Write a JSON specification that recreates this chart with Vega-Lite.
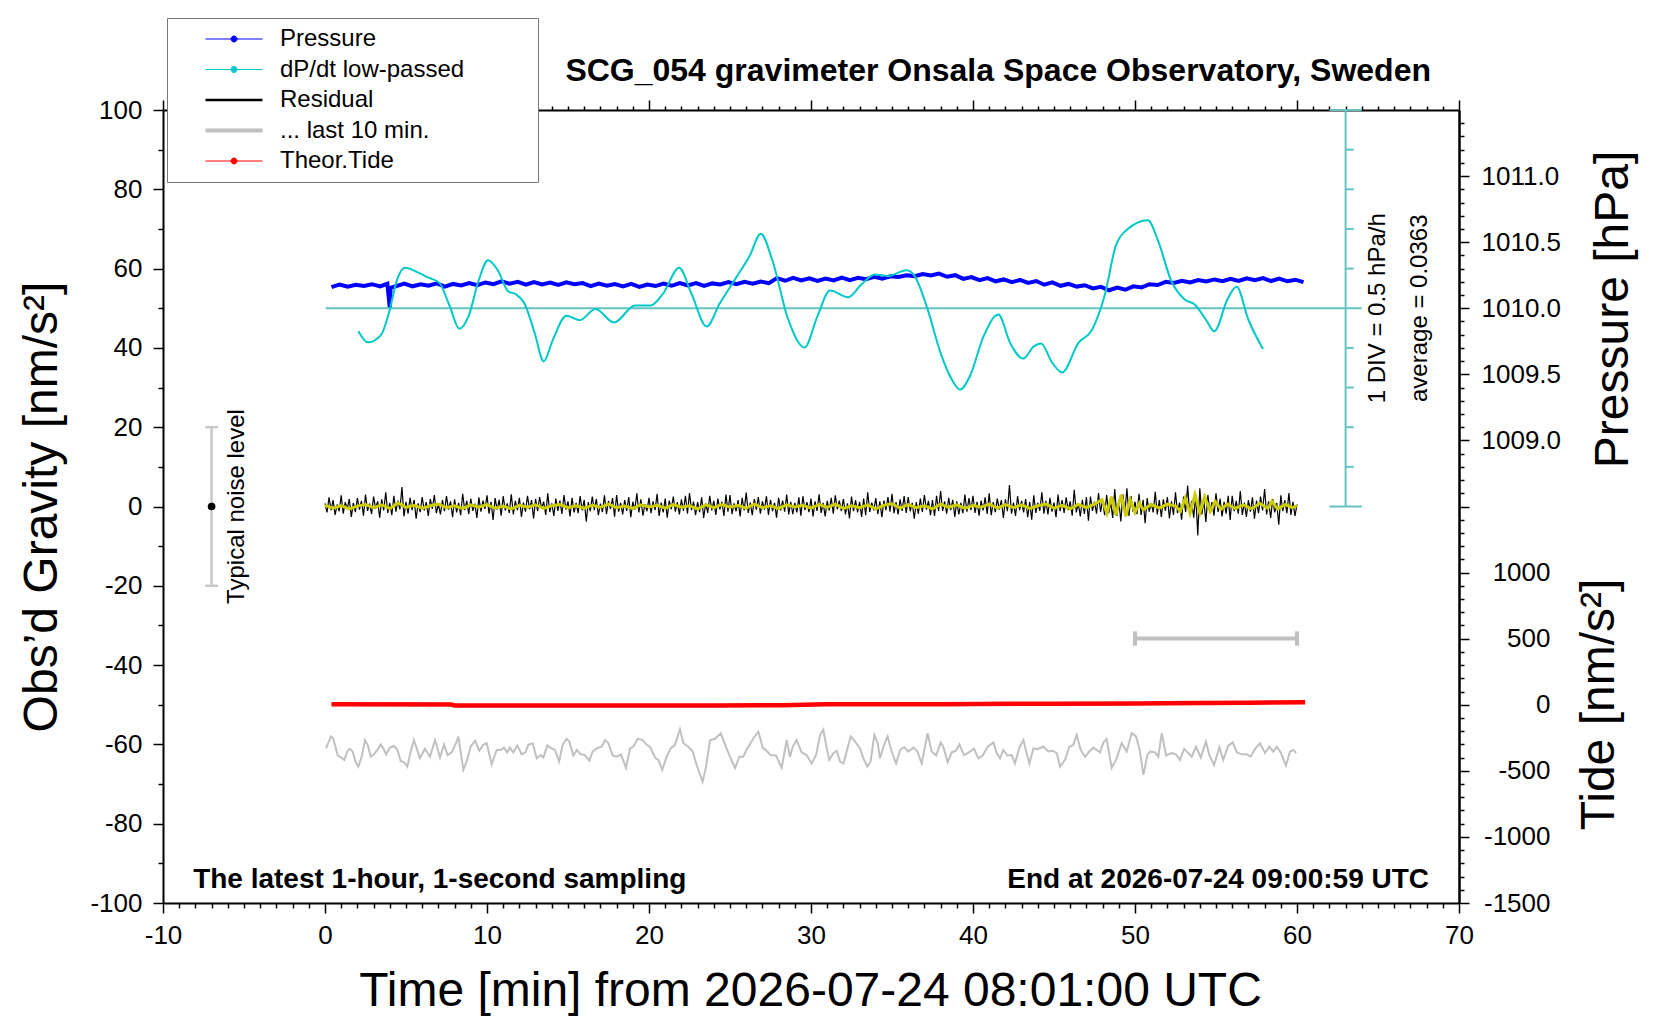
{
"$schema": "https://vega.github.io/schema/vega-lite/v6.json",
"autosize": {"type": "none"},
"padding": {"left": 163, "top": 110, "right": 201, "bottom": 117},
"width": 1296,
"height": 793,
"background": "#ffffff",
"config": {
 "view": {"stroke": null},
 "axis": {"domainColor": "#000000", "domainWidth": 2, "tickColor": "#000000", "tickWidth": 1.5, "labelFont": "Liberation Sans", "labelFontSize": 26, "labelColor": "#000000", "titleFont": "Liberation Sans", "titleFontSize": 48, "titleFontWeight": "normal", "titleColor": "#000000", "grid": false, "labelFlush": false, "labelOverlap": false, "labelBound": false},
 "text": {"font": "Liberation Sans", "color": "#000000"}
},
"datasets": {
 "residual": [
{"x":0,"g":0.8},{"x":0.125,"g":-1.5},{"x":0.25,"g":2.3},{"x":0.375,"g":-0.9},{"x":0.5,"g":1.6},{"x":0.625,"g":-2.1},{"x":0.75,"g":0.5},{"x":0.875,"g":-1.2},{"x":1,"g":2.8},{"x":1.125,"g":-1.8},{"x":1.25,"g":1.1},{"x":1.375,"g":-0.6},{"x":1.5,"g":1.9},{"x":1.625,"g":-2.6},{"x":1.75,"g":0.9},{"x":1.875,"g":-1.4},
{"x":2,"g":2.1},{"x":2.125,"g":-0.8},{"x":2.25,"g":1.4},{"x":2.375,"g":-2.3},{"x":2.5,"g":3.0},{"x":2.625,"g":-1.1},{"x":2.75,"g":0.7},{"x":2.875,"g":-1.9},{"x":3,"g":2.5},{"x":3.125,"g":-0.5},{"x":3.25,"g":1.3},{"x":3.375,"g":-2.8},{"x":3.5,"g":1.8},{"x":3.625,"g":-1.0},{"x":3.75,"g":3.6},{"x":3.875,"g":-1.6},
{"x":4,"g":0.9},{"x":4.125,"g":-2.2},{"x":4.25,"g":2.7},{"x":4.375,"g":-1.3},{"x":4.5,"g":1.5},{"x":4.625,"g":-0.7},{"x":4.75,"g":4.9},{"x":4.875,"g":-2.5},{"x":5,"g":1.2},{"x":5.125,"g":-1.8},{"x":5.25,"g":2.2},{"x":5.375,"g":-0.9},{"x":5.5,"g":1.7},{"x":5.625,"g":-3.1},{"x":5.75,"g":0.8},{"x":5.875,"g":-1.4},
{"x":6,"g":2.4},{"x":6.125,"g":-1.0},{"x":6.25,"g":1.1},{"x":6.375,"g":-2.4},{"x":6.5,"g":1.9},{"x":6.625,"g":-0.6},{"x":6.75,"g":2.9},{"x":6.875,"g":-1.7},{"x":7,"g":0.6},{"x":7.125,"g":-2.0},{"x":7.25,"g":1.6},{"x":7.375,"g":-1.2},{"x":7.5,"g":2.6},{"x":7.625,"g":-0.8},{"x":7.75,"g":1.3},{"x":7.875,"g":-2.7},
{"x":8,"g":1.8},{"x":8.125,"g":-1.5},{"x":8.25,"g":0.9},{"x":8.375,"g":-2.2},{"x":8.5,"g":3.2},{"x":8.625,"g":-0.9},{"x":8.75,"g":1.4},{"x":8.875,"g":-1.9},{"x":9,"g":2.0},{"x":9.125,"g":-1.1},{"x":9.25,"g":0.7},{"x":9.375,"g":-2.9},{"x":9.5,"g":2.3},{"x":9.625,"g":-1.3},{"x":9.75,"g":1.5},{"x":9.875,"g":-0.6},
{"x":10,"g":2.8},{"x":10.125,"g":-1.8},{"x":10.25,"g":1.2},{"x":10.375,"g":-3.4},{"x":10.5,"g":2.1},{"x":10.625,"g":-0.8},{"x":10.75,"g":1.7},{"x":10.875,"g":-2.3},{"x":11,"g":2.6},{"x":11.125,"g":-1.0},{"x":11.25,"g":0.8},{"x":11.375,"g":-1.6},{"x":11.5,"g":3.1},{"x":11.625,"g":-2.0},{"x":11.75,"g":1.4},{"x":11.875,"g":-0.9},
{"x":12,"g":2.2},{"x":12.125,"g":-2.6},{"x":12.25,"g":1.0},{"x":12.375,"g":-1.3},{"x":12.5,"g":2.7},{"x":12.625,"g":-0.7},{"x":12.75,"g":1.6},{"x":12.875,"g":-3.0},{"x":13,"g":1.9},{"x":13.125,"g":-1.2},{"x":13.25,"g":2.4},{"x":13.375,"g":-0.5},{"x":13.5,"g":1.2},{"x":13.625,"g":-2.1},{"x":13.75,"g":3.3},{"x":13.875,"g":-1.4},
{"x":14,"g":0.8},{"x":14.125,"g":-2.4},{"x":14.25,"g":2.0},{"x":14.375,"g":-1.1},{"x":14.5,"g":1.5},{"x":14.625,"g":-1.9},{"x":14.75,"g":2.9},{"x":14.875,"g":-0.8},{"x":15,"g":1.3},{"x":15.125,"g":-2.5},{"x":15.25,"g":2.2},{"x":15.375,"g":-1.5},{"x":15.5,"g":0.9},{"x":15.625,"g":-1.7},{"x":15.75,"g":2.6},{"x":15.875,"g":-1.0},
{"x":16,"g":1.7},{"x":16.125,"g":-3.8},{"x":16.25,"g":1.1},{"x":16.375,"g":-1.2},{"x":16.5,"g":2.5},{"x":16.625,"g":-0.9},{"x":16.75,"g":1.9},{"x":16.875,"g":-2.2},{"x":17,"g":0.7},{"x":17.125,"g":-1.4},{"x":17.25,"g":2.8},{"x":17.375,"g":-1.9},{"x":17.5,"g":1.4},{"x":17.625,"g":-0.6},{"x":17.75,"g":2.1},{"x":17.875,"g":-2.6},
{"x":18,"g":2.9},{"x":18.125,"g":-1.3},{"x":18.25,"g":0.9},{"x":18.375,"g":-2.0},{"x":18.5,"g":1.6},{"x":18.625,"g":-1.1},{"x":18.75,"g":2.4},{"x":18.875,"g":-2.7},{"x":19,"g":1.2},{"x":19.125,"g":-0.8},{"x":19.25,"g":3.3},{"x":19.375,"g":-1.5},{"x":19.5,"g":1.8},{"x":19.625,"g":-2.3},{"x":19.75,"g":0.6},{"x":19.875,"g":-1.2},
{"x":20,"g":2.2},{"x":20.125,"g":-1.7},{"x":20.25,"g":1.3},{"x":20.375,"g":-0.9},{"x":20.5,"g":3.2},{"x":20.625,"g":-2.4},{"x":20.75,"g":1.0},{"x":20.875,"g":-1.5},{"x":21,"g":2.0},{"x":21.125,"g":-2.8},{"x":21.25,"g":1.5},{"x":21.375,"g":-0.7},{"x":21.5,"g":2.5},{"x":21.625,"g":-1.3},{"x":21.75,"g":1.1},{"x":21.875,"g":-2.0},
{"x":22,"g":1.8},{"x":22.125,"g":-1.1},{"x":22.25,"g":2.7},{"x":22.375,"g":-1.8},{"x":22.5,"g":3.4},{"x":22.625,"g":-0.9},{"x":22.75,"g":1.2},{"x":22.875,"g":-2.2},{"x":23,"g":1.1},{"x":23.125,"g":-1.4},{"x":23.25,"g":2.3},{"x":23.375,"g":-2.9},{"x":23.5,"g":0.8},{"x":23.625,"g":-1.6},{"x":23.75,"g":2.7},{"x":23.875,"g":-1.0},
{"x":24,"g":1.4},{"x":24.125,"g":-2.1},{"x":24.25,"g":2.0},{"x":24.375,"g":-0.7},{"x":24.5,"g":1.2},{"x":24.625,"g":-2.4},{"x":24.75,"g":3.0},{"x":24.875,"g":-1.3},{"x":25,"g":2.9},{"x":25.125,"g":-1.9},{"x":25.25,"g":0.8},{"x":25.375,"g":-1.2},{"x":25.5,"g":1.6},{"x":25.625,"g":-2.5},{"x":25.75,"g":2.2},{"x":25.875,"g":-1.0},
{"x":26,"g":3.5},{"x":26.125,"g":-1.6},{"x":26.25,"g":1.0},{"x":26.375,"g":-2.2},{"x":26.5,"g":1.9},{"x":26.625,"g":-0.8},{"x":26.75,"g":2.4},{"x":26.875,"g":-1.8},{"x":27,"g":1.3},{"x":27.125,"g":-0.8},{"x":27.25,"g":2.6},{"x":27.375,"g":-2.1},{"x":27.5,"g":1.7},{"x":27.625,"g":-1.2},{"x":27.75,"g":0.9},{"x":27.875,"g":-2.8},
{"x":28,"g":2.2},{"x":28.125,"g":-1.0},{"x":28.25,"g":1.5},{"x":28.375,"g":-1.3},{"x":28.5,"g":3.0},{"x":28.625,"g":-2.0},{"x":28.75,"g":1.2},{"x":28.875,"g":-1.9},{"x":29,"g":0.9},{"x":29.125,"g":-1.5},{"x":29.25,"g":2.3},{"x":29.375,"g":-2.3},{"x":29.5,"g":2.6},{"x":29.625,"g":-0.9},{"x":29.75,"g":1.1},{"x":29.875,"g":-1.4},
{"x":30,"g":2.0},{"x":30.125,"g":-2.5},{"x":30.25,"g":1.3},{"x":30.375,"g":-1.1},{"x":30.5,"g":3.1},{"x":30.625,"g":-1.6},{"x":30.75,"g":0.9},{"x":30.875,"g":-2.5},{"x":31,"g":1.4},{"x":31.125,"g":-1.0},{"x":31.25,"g":2.2},{"x":31.375,"g":-1.8},{"x":31.5,"g":2.8},{"x":31.625,"g":-0.7},{"x":31.75,"g":1.5},{"x":31.875,"g":-1.2},
{"x":32,"g":1.9},{"x":32.125,"g":-2.0},{"x":32.25,"g":0.8},{"x":32.375,"g":-3.0},{"x":32.5,"g":2.5},{"x":32.625,"g":-1.2},{"x":32.75,"g":1.6},{"x":32.875,"g":-1.5},{"x":33,"g":1.2},{"x":33.125,"g":-2.6},{"x":33.25,"g":2.0},{"x":33.375,"g":-2.2},{"x":33.5,"g":3.6},{"x":33.625,"g":-1.4},{"x":33.75,"g":1.0},{"x":33.875,"g":-1.0},
{"x":34,"g":2.1},{"x":34.125,"g":-1.9},{"x":34.25,"g":1.3},{"x":34.375,"g":-2.7},{"x":34.5,"g":1.5},{"x":34.625,"g":-0.9},{"x":34.75,"g":2.4},{"x":34.875,"g":-1.3},{"x":35,"g":3.2},{"x":35.125,"g":-1.7},{"x":35.25,"g":1.1},{"x":35.375,"g":-2.0},{"x":35.5,"g":1.8},{"x":35.625,"g":-1.1},{"x":35.75,"g":2.6},{"x":35.875,"g":-1.6},
{"x":36,"g":2.4},{"x":36.125,"g":-1.2},{"x":36.25,"g":0.9},{"x":36.375,"g":-3.1},{"x":36.5,"g":1.1},{"x":36.625,"g":-1.8},{"x":36.75,"g":2.0},{"x":36.875,"g":-1.4},{"x":37,"g":2.9},{"x":37.125,"g":-0.8},{"x":37.25,"g":1.4},{"x":37.375,"g":-2.2},{"x":37.5,"g":1.6},{"x":37.625,"g":-2.4},{"x":37.75,"g":2.7},{"x":37.875,"g":-1.2},
{"x":38,"g":3.9},{"x":38.125,"g":-1.1},{"x":38.25,"g":1.3},{"x":38.375,"g":-1.8},{"x":38.5,"g":2.2},{"x":38.625,"g":-0.9},{"x":38.75,"g":1.7},{"x":38.875,"g":-2.6},{"x":39,"g":1.3},{"x":39.125,"g":-2.0},{"x":39.25,"g":0.9},{"x":39.375,"g":-1.7},{"x":39.5,"g":3.0},{"x":39.625,"g":-1.3},{"x":39.75,"g":2.1},{"x":39.875,"g":-0.9},
{"x":40,"g":2.7},{"x":40.125,"g":-1.6},{"x":40.25,"g":1.2},{"x":40.375,"g":-2.3},{"x":40.5,"g":1.5},{"x":40.625,"g":-1.0},{"x":40.75,"g":2.3},{"x":40.875,"g":-1.9},{"x":41,"g":3.3},{"x":41.125,"g":-2.2},{"x":41.25,"g":1.1},{"x":41.375,"g":-1.4},{"x":41.5,"g":2.0},{"x":41.625,"g":-0.8},{"x":41.75,"g":1.6},{"x":41.875,"g":-2.9},
{"x":42,"g":1.8},{"x":42.125,"g":-1.2},{"x":42.25,"g":5.4},{"x":42.375,"g":-1.8},{"x":42.5,"g":1.0},{"x":42.625,"g":-2.4},{"x":42.75,"g":2.6},{"x":42.875,"g":-0.9},{"x":43,"g":1.4},{"x":43.125,"g":-1.5},{"x":43.25,"g":1.9},{"x":43.375,"g":-2.7},{"x":43.5,"g":1.2},{"x":43.625,"g":-3.3},{"x":43.75,"g":2.8},{"x":43.875,"g":-1.6},
{"x":44,"g":0.9},{"x":44.125,"g":-1.1},{"x":44.25,"g":3.6},{"x":44.375,"g":-1.8},{"x":44.5,"g":1.4},{"x":44.625,"g":-2.0},{"x":44.75,"g":2.2},{"x":44.875,"g":-1.3},{"x":45,"g":1.0},{"x":45.125,"g":-2.7},{"x":45.25,"g":3.0},{"x":45.375,"g":-1.2},{"x":45.5,"g":1.6},{"x":45.625,"g":-1.6},{"x":45.75,"g":2.3},{"x":45.875,"g":-0.9},
{"x":46,"g":1.3},{"x":46.125,"g":-2.3},{"x":46.25,"g":4.2},{"x":46.375,"g":-1.5},{"x":46.5,"g":0.8},{"x":46.625,"g":-2.5},{"x":46.75,"g":1.7},{"x":46.875,"g":-1.9},{"x":47,"g":2.4},{"x":47.125,"g":-3.6},{"x":47.25,"g":2.5},{"x":47.375,"g":-1.1},{"x":47.5,"g":1.2},{"x":47.625,"g":-1.8},{"x":47.75,"g":3.4},{"x":47.875,"g":-1.4},
{"x":48,"g":1.6},{"x":48.125,"g":-2.2},{"x":48.25,"g":2.9},{"x":48.375,"g":-1.7},{"x":48.5,"g":1.0},{"x":48.625,"g":-2.9},{"x":48.75,"g":4.4},{"x":48.875,"g":-2.4},{"x":49,"g":1.5},{"x":49.125,"g":-3.8},{"x":49.25,"g":3.1},{"x":49.375,"g":-1.6},{"x":49.5,"g":4.6},{"x":49.625,"g":-2.4},{"x":49.75,"g":2.6},{"x":49.875,"g":-1.3},
{"x":50,"g":1.2},{"x":50.125,"g":-1.9},{"x":50.25,"g":3.2},{"x":50.375,"g":-2.1},{"x":50.5,"g":1.7},{"x":50.625,"g":-4.2},{"x":50.75,"g":2.1},{"x":50.875,"g":-1.3},{"x":51,"g":0.9},{"x":51.125,"g":-1.5},{"x":51.25,"g":3.7},{"x":51.375,"g":-2.0},{"x":51.5,"g":1.6},{"x":51.625,"g":-2.6},{"x":51.75,"g":1.8},{"x":51.875,"g":-1.1},
{"x":52,"g":2.4},{"x":52.125,"g":-3.0},{"x":52.25,"g":1.3},{"x":52.375,"g":-2.1},{"x":52.5,"g":3.6},{"x":52.625,"g":-1.7},{"x":52.75,"g":1.0},{"x":52.875,"g":-3.3},{"x":53,"g":2.5},{"x":53.125,"g":-1.4},{"x":53.25,"g":5.3},{"x":53.375,"g":-2.2},{"x":53.5,"g":1.4},{"x":53.625,"g":-2.8},{"x":53.75,"g":3.0},{"x":53.875,"g":-7.3},
{"x":54,"g":4.6},{"x":54.125,"g":-2.0},{"x":54.25,"g":1.5},{"x":54.375,"g":-3.9},{"x":54.5,"g":2.9},{"x":54.625,"g":-1.6},{"x":54.75,"g":1.1},{"x":54.875,"g":-2.3},{"x":55,"g":3.3},{"x":55.125,"g":-1.4},{"x":55.25,"g":2.0},{"x":55.375,"g":-2.5},{"x":55.5,"g":1.2},{"x":55.625,"g":-1.8},{"x":55.75,"g":2.7},{"x":55.875,"g":-3.4},
{"x":56,"g":2.7},{"x":56.125,"g":-1.2},{"x":56.25,"g":1.4},{"x":56.375,"g":-1.8},{"x":56.5,"g":3.9},{"x":56.625,"g":-2.1},{"x":56.75,"g":1.0},{"x":56.875,"g":-2.6},{"x":57,"g":1.6},{"x":57.125,"g":-1.3},{"x":57.25,"g":2.3},{"x":57.375,"g":-3.1},{"x":57.5,"g":1.5},{"x":57.625,"g":-1.7},{"x":57.75,"g":2.5},{"x":57.875,"g":-1.0},
{"x":58,"g":4.4},{"x":58.125,"g":-2.0},{"x":58.25,"g":1.3},{"x":58.375,"g":-2.9},{"x":58.5,"g":1.9},{"x":58.625,"g":-1.5},{"x":58.75,"g":0.9},{"x":58.875,"g":-4.6},{"x":59,"g":2.8},{"x":59.125,"g":-1.2},{"x":59.25,"g":1.6},{"x":59.375,"g":-1.7},{"x":59.5,"g":3.4},{"x":59.625,"g":-2.1},{"x":59.75,"g":1.2},{"x":59.875,"g":-2.4},
{"x":60,"g":0.5}
 ],
 "lowpass": [
{"x":0,"g":0.3},{"x":0.5,"g":-0.4},{"x":1,"g":0.2},{"x":1.5,"g":-0.6},{"x":2,"g":0.1},{"x":2.5,"g":0.5},{"x":3,"g":-0.3},{"x":3.5,"g":0.4},{"x":4,"g":-0.5},{"x":4.5,"g":0.9},
{"x":5,"g":-0.2},{"x":5.5,"g":0.3},{"x":6,"g":-0.4},{"x":6.5,"g":0.2},{"x":7,"g":0.6},{"x":7.5,"g":-0.3},{"x":8,"g":0.2},{"x":8.5,"g":-0.5},{"x":9,"g":0.4},{"x":9.5,"g":-0.2},
{"x":10,"g":0.5},{"x":10.5,"g":-0.4},{"x":11,"g":0.1},{"x":11.5,"g":-0.6},{"x":12,"g":0.3},{"x":12.5,"g":-0.2},{"x":13,"g":0.4},{"x":13.5,"g":-0.5},{"x":14,"g":0.2},{"x":14.5,"g":0.5},
{"x":15,"g":-0.3},{"x":15.5,"g":0.2},{"x":16,"g":-0.4},{"x":16.5,"g":0.3},{"x":17,"g":-0.2},{"x":17.5,"g":0.6},{"x":18,"g":-0.3},{"x":18.5,"g":0.1},{"x":19,"g":-0.5},{"x":19.5,"g":0.4},
{"x":20,"g":-0.1},{"x":20.5,"g":0.3},{"x":21,"g":-0.4},{"x":21.5,"g":0.5},{"x":22,"g":-0.2},{"x":22.5,"g":0.2},{"x":23,"g":-0.6},{"x":23.5,"g":0.4},{"x":24,"g":-0.3},{"x":24.5,"g":0.5},
{"x":25,"g":-0.2},{"x":25.5,"g":0.3},{"x":26,"g":-0.4},{"x":26.5,"g":0.6},{"x":27,"g":-0.3},{"x":27.5,"g":0.2},{"x":28,"g":-0.5},{"x":28.5,"g":0.4},{"x":29,"g":-0.1},{"x":29.5,"g":0.3},
{"x":30,"g":-0.4},{"x":30.5,"g":0.5},{"x":31,"g":-0.2},{"x":31.5,"g":0.6},{"x":32,"g":-0.5},{"x":32.5,"g":0.2},{"x":33,"g":-0.3},{"x":33.5,"g":0.4},{"x":34,"g":-0.6},{"x":34.5,"g":0.3},
{"x":35,"g":0.7},{"x":35.5,"g":-0.4},{"x":36,"g":0.5},{"x":36.5,"g":-0.3},{"x":37,"g":0.2},{"x":37.5,"g":-0.6},{"x":38,"g":0.6},{"x":38.5,"g":-0.2},{"x":39,"g":0.4},{"x":39.5,"g":-0.5},
{"x":40,"g":0.3},{"x":40.5,"g":-0.2},{"x":41,"g":0.6},{"x":41.5,"g":-0.4},{"x":42,"g":0.5},{"x":42.5,"g":-0.3},{"x":43,"g":0.4},{"x":43.5,"g":-0.5},{"x":44,"g":0.2},{"x":44.5,"g":0.6},
{"x":45,"g":-0.4},{"x":45.5,"g":0.3},{"x":46,"g":-0.6},{"x":46.5,"g":0.5},{"x":47,"g":-0.3},{"x":47.5,"g":0.6},{"x":47.96,"g":1.7},{"x":48.27,"g":-1.7},{"x":48.54,"g":2.5},{"x":48.82,"g":-2.1},
{"x":49.15,"g":3.0},{"x":49.44,"g":-2.5},{"x":49.7,"g":1.7},{"x":50,"g":-1.5},{"x":50.28,"g":0.9},{"x":50.5,"g":-0.8},{"x":51,"g":0.5},{"x":51.5,"g":-0.4},{"x":52,"g":0.6},{"x":52.5,"g":0.1},
{"x":52.8,"g":-1.2},{"x":53.1,"g":2.1},{"x":53.4,"g":-1.7},{"x":53.7,"g":3.0},{"x":54,"g":-1.7},{"x":54.3,"g":2.5},{"x":54.65,"g":-1.2},{"x":54.95,"g":1.3},{"x":55.3,"g":-0.7},{"x":55.7,"g":0.6},
{"x":56.2,"g":-0.5},{"x":56.7,"g":0.4},{"x":57.2,"g":-0.6},{"x":57.7,"g":0.8},{"x":58.2,"g":-0.5},{"x":58.45,"g":1.3},{"x":58.8,"g":-0.6},{"x":59.3,"g":0.5},{"x":59.7,"g":-0.3},{"x":60,"g":0.2}
 ],
 "last10": [
{"x":0.06,"g":-61.0},{"x":0.37,"g":-58.0},{"x":0.51,"g":-58.5},{"x":0.78,"g":-62.7},{"x":0.99,"g":-63.3},{"x":1.19,"g":-63.9},{"x":1.40,"g":-61.6},{"x":1.54,"g":-61.1},{"x":1.71,"g":-61.8},{"x":1.87,"g":-64.3},
{"x":2.06,"g":-65.6},{"x":2.26,"g":-63.1},{"x":2.47,"g":-58.9},{"x":2.63,"g":-60.1},{"x":2.82,"g":-63.1},{"x":3.02,"g":-62.5},{"x":3.23,"g":-61.4},{"x":3.44,"g":-60.0},{"x":3.60,"g":-61.0},{"x":3.77,"g":-62.5},
{"x":4.01,"g":-60.8},{"x":4.26,"g":-60.4},{"x":4.47,"g":-61.4},{"x":4.67,"g":-64.2},{"x":4.88,"g":-64.5},{"x":5.08,"g":-65.6},{"x":5.29,"g":-61.8},{"x":5.49,"g":-58.9},{"x":5.66,"g":-61.0},{"x":5.86,"g":-63.5},
{"x":6.17,"g":-61.1},{"x":6.48,"g":-63.1},{"x":6.79,"g":-58.9},{"x":7.10,"g":-63.3},{"x":7.35,"g":-60.0},{"x":7.57,"g":-62.7},{"x":7.82,"g":-62.0},{"x":8.09,"g":-59.7},{"x":8.23,"g":-58.0},{"x":8.54,"g":-66.4},
{"x":8.75,"g":-64.3},{"x":8.99,"g":-60.6},{"x":9.26,"g":-59.1},{"x":9.53,"g":-61.6},{"x":9.77,"g":-60.1},{"x":9.98,"g":-59.7},{"x":10.29,"g":-65.0},{"x":10.60,"g":-61.4},{"x":10.84,"g":-61.4},{"x":11.05,"g":-60.8},
{"x":11.25,"g":-62.0},{"x":11.42,"g":-60.8},{"x":11.63,"g":-62.0},{"x":11.87,"g":-60.3},{"x":12.14,"g":-62.5},{"x":12.37,"g":-62.0},{"x":12.55,"g":-60.1},{"x":12.82,"g":-59.7},{"x":13.07,"g":-63.5},{"x":13.31,"g":-62.7},
{"x":13.48,"g":-63.3},{"x":13.72,"g":-60.3},{"x":13.99,"g":-61.0},{"x":14.20,"g":-61.4},{"x":14.45,"g":-64.3},{"x":14.67,"g":-60.1},{"x":14.92,"g":-58.6},{"x":15.08,"g":-59.3},{"x":15.33,"g":-62.8},{"x":15.54,"g":-61.4},
{"x":15.78,"g":-62.5},{"x":16.05,"g":-62.7},{"x":16.32,"g":-64.1},{"x":16.52,"g":-61.8},{"x":16.77,"g":-61.0},{"x":17.08,"g":-60.6},{"x":17.28,"g":-58.9},{"x":17.49,"g":-59.7},{"x":17.76,"g":-62.8},{"x":18.00,"g":-63.1},
{"x":18.27,"g":-62.5},{"x":18.58,"g":-65.9},{"x":18.83,"g":-61.0},{"x":19.03,"g":-60.6},{"x":19.30,"g":-58.6},{"x":19.61,"g":-58.9},{"x":19.86,"g":-60.1},{"x":20.06,"g":-60.6},{"x":20.37,"g":-63.3},{"x":20.58,"g":-63.9},
{"x":20.82,"g":-66.4},{"x":21.09,"g":-63.1},{"x":21.34,"g":-61.0},{"x":21.60,"g":-60.1},{"x":21.91,"g":-56.2},{"x":22.12,"g":-59.7},{"x":22.43,"g":-60.6},{"x":22.70,"g":-61.8},{"x":22.94,"g":-65.2},{"x":23.31,"g":-69.4},
{"x":23.52,"g":-65.6},{"x":23.77,"g":-58.9},{"x":24.07,"g":-58.6},{"x":24.43,"g":-57.2},{"x":24.75,"g":-60.6},{"x":25.00,"g":-63.1},{"x":25.31,"g":-66.0},{"x":25.58,"g":-63.1},{"x":25.82,"g":-63.1},{"x":26.07,"g":-61.0},
{"x":26.44,"g":-58.5},{"x":26.75,"g":-56.8},{"x":27.02,"g":-60.8},{"x":27.26,"g":-61.6},{"x":27.51,"g":-62.7},{"x":27.84,"g":-62.8},{"x":28.19,"g":-65.9},{"x":28.50,"g":-58.9},{"x":28.70,"g":-63.1},{"x":28.87,"g":-60.6},
{"x":29.11,"g":-58.9},{"x":29.42,"g":-62.0},{"x":29.73,"g":-62.7},{"x":30.04,"g":-64.8},{"x":30.31,"g":-62.7},{"x":30.56,"g":-57.6},{"x":30.76,"g":-56.3},{"x":30.97,"g":-61.0},{"x":31.13,"g":-63.9},{"x":31.38,"g":-62.2},
{"x":31.59,"g":-61.6},{"x":31.79,"g":-64.3},{"x":32.00,"g":-64.8},{"x":32.20,"g":-61.8},{"x":32.45,"g":-58.0},{"x":32.72,"g":-59.3},{"x":33.03,"g":-61.0},{"x":33.23,"g":-63.5},{"x":33.48,"g":-65.6},{"x":33.68,"g":-64.3},
{"x":33.91,"g":-57.6},{"x":34.12,"g":-59.7},{"x":34.26,"g":-63.5},{"x":34.51,"g":-60.1},{"x":34.73,"g":-58.0},{"x":34.98,"g":-61.8},{"x":35.25,"g":-64.8},{"x":35.50,"g":-61.4},{"x":35.76,"g":-60.7},{"x":36.01,"g":-61.8},
{"x":36.32,"g":-60.8},{"x":36.57,"g":-61.8},{"x":36.83,"g":-64.8},{"x":37.20,"g":-57.2},{"x":37.45,"g":-61.8},{"x":37.72,"g":-62.8},{"x":38.01,"g":-59.5},{"x":38.17,"g":-60.6},{"x":38.44,"g":-64.5},{"x":38.69,"g":-62.0},
{"x":38.95,"g":-61.6},{"x":39.16,"g":-60.0},{"x":39.45,"g":-62.7},{"x":39.82,"g":-61.8},{"x":40.06,"g":-61.1},{"x":40.33,"g":-63.5},{"x":40.60,"g":-62.8},{"x":40.91,"g":-60.6},{"x":41.26,"g":-59.5},{"x":41.46,"g":-62.2},
{"x":41.67,"g":-63.5},{"x":41.87,"g":-61.4},{"x":42.12,"g":-62.8},{"x":42.39,"g":-62.7},{"x":42.59,"g":-64.8},{"x":42.86,"g":-60.8},{"x":43.11,"g":-58.9},{"x":43.31,"g":-62.2},{"x":43.48,"g":-64.8},{"x":43.73,"g":-61.0},
{"x":43.97,"g":-61.2},{"x":44.34,"g":-60.6},{"x":44.65,"g":-61.8},{"x":44.92,"g":-61.6},{"x":45.17,"g":-62.2},{"x":45.37,"g":-65.6},{"x":45.68,"g":-63.9},{"x":45.95,"g":-60.6},{"x":46.19,"g":-60.1},{"x":46.40,"g":-57.6},
{"x":46.65,"g":-61.4},{"x":46.92,"g":-63.1},{"x":47.18,"g":-61.8},{"x":47.43,"g":-60.8},{"x":47.84,"g":-62.0},{"x":48.05,"g":-59.5},{"x":48.25,"g":-58.6},{"x":48.56,"g":-65.9},{"x":48.83,"g":-63.9},{"x":49.18,"g":-59.7},
{"x":49.49,"g":-61.8},{"x":49.80,"g":-57.2},{"x":50.06,"g":-58.0},{"x":50.27,"g":-61.0},{"x":50.52,"g":-67.7},{"x":50.76,"g":-62.7},{"x":50.93,"g":-61.8},{"x":51.24,"g":-62.0},{"x":51.44,"g":-63.1},{"x":51.65,"g":-57.2},
{"x":51.92,"g":-62.8},{"x":52.26,"g":-62.2},{"x":52.53,"g":-62.5},{"x":52.78,"g":-63.9},{"x":53.03,"g":-61.1},{"x":53.29,"g":-62.2},{"x":53.50,"g":-63.1},{"x":53.77,"g":-60.6},{"x":54.06,"g":-63.3},{"x":54.38,"g":-59.3},
{"x":54.59,"g":-62.7},{"x":54.88,"g":-65.2},{"x":55.21,"g":-60.7},{"x":55.45,"g":-63.9},{"x":55.76,"g":-60.3},{"x":56.03,"g":-59.5},{"x":56.28,"g":-62.0},{"x":56.59,"g":-62.5},{"x":56.89,"g":-62.5},{"x":57.14,"g":-63.1},
{"x":57.41,"g":-61.1},{"x":57.72,"g":-59.7},{"x":58.03,"g":-62.2},{"x":58.29,"g":-60.6},{"x":58.54,"g":-61.8},{"x":58.75,"g":-60.6},{"x":58.99,"g":-62.0},{"x":59.32,"g":-65.3},{"x":59.57,"g":-61.8},{"x":59.78,"g":-61.4},
{"x":59.94,"g":-62.2}
 ],
 "pressure": [
{"x":0.4,"p":1010.160},{"x":0.9,"p":1010.180},{"x":1.4,"p":1010.164},{"x":1.9,"p":1010.178},{"x":2.4,"p":1010.168},{"x":2.9,"p":1010.182},{"x":3.4,"p":1010.165},{"x":3.85,"p":1010.185},{"x":3.9,"p":1010.12},{"x":3.95,"p":1010.065},
{"x":4.0,"p":1010.0},{"x":4.05,"p":1010.155},{"x":4.4,"p":1010.168},{"x":4.9,"p":1010.186},{"x":5.4,"p":1010.166},{"x":5.9,"p":1010.182},{"x":6.4,"p":1010.170},{"x":6.9,"p":1010.188},{"x":7.4,"p":1010.163},{"x":7.9,"p":1010.184},
{"x":8.4,"p":1010.172},{"x":8.9,"p":1010.190},{"x":9.4,"p":1010.174},{"x":9.9,"p":1010.195},{"x":10.4,"p":1010.182},{"x":10.9,"p":1010.204},{"x":11.4,"p":1010.185},{"x":11.9,"p":1010.200},{"x":12.4,"p":1010.178},{"x":12.9,"p":1010.198},
{"x":13.4,"p":1010.180},{"x":13.9,"p":1010.194},{"x":14.4,"p":1010.176},{"x":14.9,"p":1010.196},{"x":15.4,"p":1010.182},{"x":15.9,"p":1010.190},{"x":16.4,"p":1010.168},{"x":16.9,"p":1010.186},{"x":17.4,"p":1010.170},{"x":17.9,"p":1010.183},
{"x":18.4,"p":1010.166},{"x":18.9,"p":1010.184},{"x":19.4,"p":1010.162},{"x":19.9,"p":1010.180},{"x":20.4,"p":1010.168},{"x":20.9,"p":1010.186},{"x":21.4,"p":1010.170},{"x":21.9,"p":1010.190},{"x":22.4,"p":1010.172},{"x":22.9,"p":1010.191},
{"x":23.4,"p":1010.169},{"x":23.9,"p":1010.188},{"x":24.4,"p":1010.180},{"x":24.9,"p":1010.198},{"x":25.4,"p":1010.182},{"x":25.9,"p":1010.200},{"x":26.4,"p":1010.186},{"x":26.9,"p":1010.202},{"x":27.4,"p":1010.190},{"x":27.9,"p":1010.228},
{"x":28.4,"p":1010.208},{"x":28.9,"p":1010.230},{"x":29.4,"p":1010.210},{"x":29.9,"p":1010.226},{"x":30.4,"p":1010.206},{"x":30.9,"p":1010.224},{"x":31.4,"p":1010.210},{"x":31.9,"p":1010.232},{"x":32.4,"p":1010.212},{"x":32.9,"p":1010.230},
{"x":33.4,"p":1010.220},{"x":33.9,"p":1010.238},{"x":34.4,"p":1010.224},{"x":34.9,"p":1010.242},{"x":35.4,"p":1010.236},{"x":35.9,"p":1010.250},{"x":36.4,"p":1010.242},{"x":36.9,"p":1010.258},{"x":37.4,"p":1010.248},{"x":37.9,"p":1010.262},
{"x":38.4,"p":1010.238},{"x":38.9,"p":1010.250},{"x":39.4,"p":1010.222},{"x":39.9,"p":1010.236},{"x":40.4,"p":1010.212},{"x":40.9,"p":1010.228},{"x":41.4,"p":1010.204},{"x":41.9,"p":1010.218},{"x":42.4,"p":1010.198},{"x":42.9,"p":1010.214},
{"x":43.4,"p":1010.192},{"x":43.9,"p":1010.206},{"x":44.4,"p":1010.178},{"x":44.9,"p":1010.196},{"x":45.4,"p":1010.170},{"x":45.9,"p":1010.184},{"x":46.4,"p":1010.164},{"x":46.9,"p":1010.174},{"x":47.4,"p":1010.150},{"x":47.9,"p":1010.162},
{"x":48.4,"p":1010.136},{"x":48.9,"p":1010.156},{"x":49.4,"p":1010.140},{"x":49.9,"p":1010.166},{"x":50.4,"p":1010.158},{"x":50.9,"p":1010.182},{"x":51.4,"p":1010.176},{"x":51.9,"p":1010.200},{"x":52.4,"p":1010.192},{"x":52.9,"p":1010.208},
{"x":53.4,"p":1010.196},{"x":53.9,"p":1010.214},{"x":54.4,"p":1010.202},{"x":54.9,"p":1010.218},{"x":55.4,"p":1010.204},{"x":55.9,"p":1010.222},{"x":56.4,"p":1010.206},{"x":56.9,"p":1010.226},{"x":57.4,"p":1010.212},{"x":57.9,"p":1010.228},
{"x":58.4,"p":1010.206},{"x":58.9,"p":1010.224},{"x":59.4,"p":1010.204},{"x":59.9,"p":1010.216},{"x":60.4,"p":1010.198}
 ],
 "tide": [
{"x":0.4,"t":4},{"x":7.8,"t":1},{"x":8.0,"t":-5},{"x":16,"t":-5},{"x":24,"t":-5},{"x":28.2,"t":-3},{"x":31,"t":3},{"x":38,"t":4},{"x":45,"t":8},{"x":50,"t":10},{"x":54,"t":13},{"x":57,"t":15},{"x":60.5,"t":18}
 ],
 "dpdt": [
{"x":2.06,"d":-0.2537},{"x":2.65,"d":-0.3937},{"x":3.46,"d":-0.2987},{"x":3.95,"d":-0.0187},{"x":4.45,"d":0.3963},{"x":4.94,"d":0.5463},{"x":5.76,"d":0.4863},{"x":6.4,"d":0.4213},{"x":7.06,"d":0.3563},{"x":7.7,"d":0.0613},
{"x":8.3,"d":-0.2237},{"x":8.86,"d":-0.0637},{"x":9.5,"d":0.3963},{"x":10.06,"d":0.6413},{"x":10.65,"d":0.5213},{"x":11.3,"d":0.2513},{"x":11.8,"d":0.2113},{"x":12.3,"d":0.1013},{"x":12.94,"d":-0.2737},{"x":13.5,"d":-0.6337},
{"x":14.07,"d":-0.3587},{"x":14.9,"d":-0.0587},{"x":15.72,"d":-0.1137},{"x":16.7,"d":0.0263},{"x":17.84,"d":-0.1437},{"x":19.14,"d":0.0713},{"x":20.1,"d":0.0713},{"x":20.9,"d":0.2313},{"x":21.86,"d":0.5463},{"x":22.6,"d":0.2313},
{"x":23.56,"d":-0.1937},{"x":24.38,"d":0.1013},{"x":25.36,"d":0.4163},{"x":26.2,"d":0.6913},{"x":26.9,"d":0.9763},{"x":27.6,"d":0.6513},{"x":28.6,"d":-0.1087},{"x":29.6,"d":-0.4587},{"x":30.4,"d":-0.0637},{"x":31.17,"d":0.2613},
{"x":32.3,"d":0.1763},{"x":33.1,"d":0.3363},{"x":33.95,"d":0.4613},{"x":34.75,"d":0.4413},{"x":35.9,"d":0.5163},{"x":36.4,"d":0.4413},{"x":37.2,"d":0.0213},{"x":38.0,"d":-0.5287},{"x":38.7,"d":-0.8637},{"x":39.2,"d":-0.9887},
{"x":39.8,"d":-0.8237},{"x":40.65,"d":-0.3187},{"x":41.56,"d":-0.0437},{"x":42.3,"d":-0.4037},{"x":43.1,"d":-0.5987},{"x":43.75,"d":-0.4437},{"x":44.2,"d":-0.4087},{"x":44.9,"d":-0.6537},{"x":45.5,"d":-0.7737},{"x":46.5,"d":-0.4037},
{"x":47.35,"d":-0.2337},{"x":48.17,"d":0.2313},{"x":48.8,"d":0.8163},{"x":49.5,"d":1.0263},{"x":50.8,"d":1.1463},{"x":51.4,"d":0.9013},{"x":52.25,"d":0.3763},{"x":53.07,"d":0.1463},{"x":53.7,"d":0.0813},{"x":54.38,"d":-0.1087},
{"x":54.9,"d":-0.2537},{"x":55.7,"d":0.1463},{"x":56.27,"d":0.3063},{"x":57.0,"d":-0.1087},{"x":57.9,"d":-0.4787}
 ],
 "cyanframe": [
{"x":0.04,"x2":64,"d":0.0363,"d2":0.0363},
{"x":63,"x2":63,"d":-2.4637,"d2":2.5363},
{"x":62,"x2":64,"d":-2.4637,"d2":-2.4637},
{"x":62,"x2":64,"d":2.5363,"d2":2.5363},
{"x":63,"x2":63.5,"d":-1.9637,"d2":-1.9637},
{"x":63,"x2":63.5,"d":-1.4637,"d2":-1.4637},
{"x":63,"x2":63.5,"d":-0.9637,"d2":-0.9637},
{"x":63,"x2":63.5,"d":-0.4637,"d2":-0.4637},
{"x":63,"x2":63.5,"d":0.5363,"d2":0.5363},
{"x":63,"x2":63.5,"d":1.0363,"d2":1.0363},
{"x":63,"x2":63.5,"d":1.5363,"d2":1.5363},
{"x":63,"x2":63.5,"d":2.0363,"d2":2.0363}
 ],
 "noisebar": [
{"x":-7,"x2":-7,"g":-20,"g2":20},
{"x":-7.4,"x2":-6.6,"g":20,"g2":20},
{"x":-7.4,"x2":-6.6,"g":-20,"g2":-20}
 ],
 "tenmin": [
{"x":50,"x2":60,"g":-33.3,"g2":-33.3},
{"x":50,"x2":50,"g":-31.5,"g2":-35.1},
{"x":60,"x2":60,"g":-31.5,"g2":-35.1}
 ]
},
"layer": [
 {
  "encoding": {
   "x": {"field": "x", "type": "quantitative", "scale": {"domain": [-10, 70], "nice": false, "zero": false},
    "axis": {"orient": "bottom",
     "values": [-10,-9,-8,-7,-6,-5,-4,-3,-2,-1,0,1,2,3,4,5,6,7,8,9,10,11,12,13,14,15,16,17,18,19,20,21,22,23,24,25,26,27,28,29,30,31,32,33,34,35,36,37,38,39,40,41,42,43,44,45,46,47,48,49,50,51,52,53,54,55,56,57,58,59,60,61,62,63,64,65,66,67,68,69,70],
     "tickSize": {"condition": {"test": "datum.value % 10 === 0", "value": 10}, "value": 5},
     "labelExpr": "datum.value % 10 === 0 ? toString(datum.value) : ''",
     "labelBaseline": "alphabetic", "labelPadding": 30,
     "title": "Time [min] from 2026-07-24 08:01:00 UTC", "titleX": 647, "titleY": 102, "titleAlign": "center", "titleBaseline": "alphabetic", "titleAngle": 0}},
   "y": {"field": "g", "type": "quantitative", "scale": {"domain": [-100, 100], "nice": false, "zero": false},
    "axis": {"orient": "left",
     "values": [-100,-90,-80,-70,-60,-50,-40,-30,-20,-10,0,10,20,30,40,50,60,70,80,90,100],
     "tickSize": {"condition": {"test": "datum.value % 20 === 0", "value": 10}, "value": 5},
     "labelExpr": "datum.value % 20 === 0 ? toString(datum.value) : ''",
     "labelPadding": 11,
     "title": "Obs’d Gravity [nm/s²]", "titleX": -107, "titleY": 396.5, "titleAngle": 270, "titleAlign": "center", "titleBaseline": "alphabetic"}}
  },
  "layer": [
   {"data": {"name": "last10"}, "mark": {"type": "line", "strokeWidth": 2},
    "encoding": {"color": {"datum": "... last 10 min."}}},
   {"data": {"name": "residual"}, "mark": {"type": "line", "strokeWidth": 1.2},
    "encoding": {"color": {"datum": "Residual",
      "scale": {"domain": ["Pressure", "dP/dt low-passed", "Residual", "... last 10 min.", "Theor.Tide"], "range": ["#0000ff", "#00c8c8", "#000000", "#c0c0c0", "#ff0000"]},
      "legend": {"orient": "none", "legendX": 4, "legendY": -92, "direction": "vertical", "title": null,
       "padding": 9, "rowPadding": 6.5, "symbolSize": 900, "symbolOffset": 46, "labelOffset": 34,
       "labelFont": "Liberation Sans", "labelFontSize": 24, "labelColor": "#000000", "labelLimit": 0,
       "strokeColor": "#777777", "fillColor": "#ffffff",
       "labelExpr": "datum.value === 'dP/dt low-passed' ? datum.label + '\u2003\u2003\u2002\u2009\u200b' : datum.label",
       "encode": {"symbols": {"update": {
         "shape": {"signal": "(datum.value === 'Residual' || datum.value === '... last 10 min.') ? 'M-1.9,0L1.9,0' : 'M-1.9,0L1.9,0M-0.2,0A0.2,0.2,0,1,1,0.2,0A0.2,0.2,0,1,1,-0.2,0Z'"},
         "strokeWidth": {"signal": "datum.value === 'Residual' ? 2.5 : (datum.value === '... last 10 min.' ? 4 : 1)"},
         "fill": {"signal": "scale('color', datum.value)"},
         "opacity": {"value": 1}}}}}}}},
   {"data": {"name": "lowpass"}, "mark": {"type": "line", "strokeWidth": 3, "color": "#cccc00"}},
   {"data": {"name": "noisebar"}, "mark": {"type": "rule", "color": "#c8c8c8", "strokeWidth": 2.5},
    "encoding": {"x2": {"field": "x2"}, "y2": {"field": "g2"}}},
   {"data": {"values": [{"x": -7, "g": 0}]}, "mark": {"type": "point", "filled": true, "color": "#000000", "size": 60, "opacity": 1}},
   {"data": {"name": "tenmin"}, "mark": {"type": "rule", "color": "#c0c0c0", "strokeWidth": 4},
    "encoding": {"x2": {"field": "x2"}, "y2": {"field": "g2"}}},
   {"data": {"values": [{"x": -5.43, "g": 0, "text": "Typical noise level"}, {"x": 65.0, "g": 50, "text": "1 DIV = 0.5 hPa/h"}, {"x": 67.6, "g": 50, "text": "average = 0.0363"}]},
    "mark": {"type": "text", "angle": 270, "align": "center", "baseline": "middle", "fontSize": 24, "font": "Liberation Sans", "color": "#000000"},
    "encoding": {"text": {"field": "text"}}},
   {"data": {"values": [{"x": -8.14, "g": -96.2, "text": "The latest 1-hour, 1-second sampling"}]},
    "mark": {"type": "text", "align": "left", "baseline": "alphabetic", "fontSize": 28, "fontWeight": "bold", "font": "Liberation Sans", "color": "#000000"},
    "encoding": {"text": {"field": "text"}}},
   {"data": {"values": [{"x": 68.15, "g": -96.2, "text": "End at 2026-07-24 09:00:59 UTC"}]},
    "mark": {"type": "text", "align": "right", "baseline": "alphabetic", "fontSize": 28, "fontWeight": "bold", "font": "Liberation Sans", "color": "#000000"},
    "encoding": {"text": {"field": "text"}}},
   {"data": {"values": [{"x": 68.27, "g": 107.2, "text": "SCG_054 gravimeter Onsala Space Observatory, Sweden"}]},
    "mark": {"type": "text", "align": "right", "baseline": "alphabetic", "fontSize": 32, "fontWeight": "bold", "font": "Liberation Sans", "color": "#000000"},
    "encoding": {"text": {"field": "text"}}}
  ]
 },
 {
  "data": {"name": "pressure"},
  "mark": {"type": "line", "strokeWidth": 4},
  "encoding": {
   "x": {"field": "x", "type": "quantitative", "scale": {"domain": [-10, 70], "nice": false, "zero": false},
    "axis": {"orient": "top",
     "values": [-10,-9,-8,-7,-6,-5,-4,-3,-2,-1,0,1,2,3,4,5,6,7,8,9,10,11,12,13,14,15,16,17,18,19,20,21,22,23,24,25,26,27,28,29,30,31,32,33,34,35,36,37,38,39,40,41,42,43,44,45,46,47,48,49,50,51,52,53,54,55,56,57,58,59,60,61,62,63,64,65,66,67,68,69,70],
     "tickSize": {"condition": {"test": "datum.value % 10 === 0", "value": 10}, "value": 4},
     "labels": false, "title": null}},
   "y": {"field": "p", "type": "quantitative", "scale": {"domain": [1005.5, 1011.5], "nice": false, "zero": false},
    "axis": {"orient": "right",
     "values": [1008.5,1008.6,1008.7,1008.8,1008.9,1009.0,1009.1,1009.2,1009.3,1009.4,1009.5,1009.6,1009.7,1009.8,1009.9,1010.0,1010.1,1010.2,1010.3,1010.4,1010.5,1010.6,1010.7,1010.8,1010.9,1011.0,1011.1,1011.2,1011.3,1011.4],
     "tickSize": {"condition": {"test": "abs(datum.value * 2 - round(datum.value * 2)) < 0.01", "value": 10}, "value": 5},
     "labelExpr": "(datum.value > 1008.95 && abs(datum.value * 2 - round(datum.value * 2)) < 0.01) ? format(datum.value, '.1f') : ''",
     "labelPadding": 12,
     "title": "Pressure [hPa]", "titleX": 168, "titleY": 199, "titleAngle": 270, "titleAlign": "center", "titleBaseline": "alphabetic"}},
   "color": {"datum": "Pressure"}
  }
 },
 {
  "data": {"name": "tide"},
  "mark": {"type": "line", "strokeWidth": 4.5},
  "encoding": {
   "x": {"field": "x", "type": "quantitative", "scale": {"domain": [-10, 70], "nice": false, "zero": false}, "axis": null},
   "y": {"field": "t", "type": "quantitative", "scale": {"domain": [-1500, 4500], "nice": false, "zero": false},
    "axis": {"orient": "right",
     "values": [-1500,-1400,-1300,-1200,-1100,-1000,-900,-800,-700,-600,-500,-400,-300,-200,-100,0,100,200,300,400,500,600,700,800,900,1000,1100,1200,1300,1400],
     "tickSize": {"condition": {"test": "datum.value % 500 === 0", "value": 10}, "value": 5},
     "labelExpr": "datum.value % 500 === 0 ? toString(datum.value) : ''",
     "labelAlign": "right", "labelPadding": 81,
     "title": "Tide [nm/s²]", "titleX": 154, "titleY": 594, "titleAngle": 270, "titleAlign": "center", "titleBaseline": "alphabetic"}},
   "color": {"datum": "Theor.Tide"}
  }
 },
 {
  "encoding": {
   "x": {"field": "x", "type": "quantitative", "scale": {"domain": [-10, 70], "nice": false, "zero": false}, "axis": null},
   "y": {"field": "d", "type": "quantitative", "scale": {"domain": [-7.4637, 2.5363], "nice": false, "zero": false}, "axis": null}
  },
  "layer": [
   {"data": {"name": "cyanframe"}, "mark": {"type": "rule", "color": "#66c2c2", "strokeWidth": 2},
    "encoding": {"x2": {"field": "x2"}, "y2": {"field": "d2"}}},
   {"data": {"name": "dpdt"}, "mark": {"type": "line", "strokeWidth": 2, "interpolate": "monotone"},
    "encoding": {"color": {"datum": "dP/dt low-passed"}}}
  ]
 }
],
"resolve": {"scale": {"y": "independent"}, "axis": {"x": "independent", "y": "independent"}}
}
